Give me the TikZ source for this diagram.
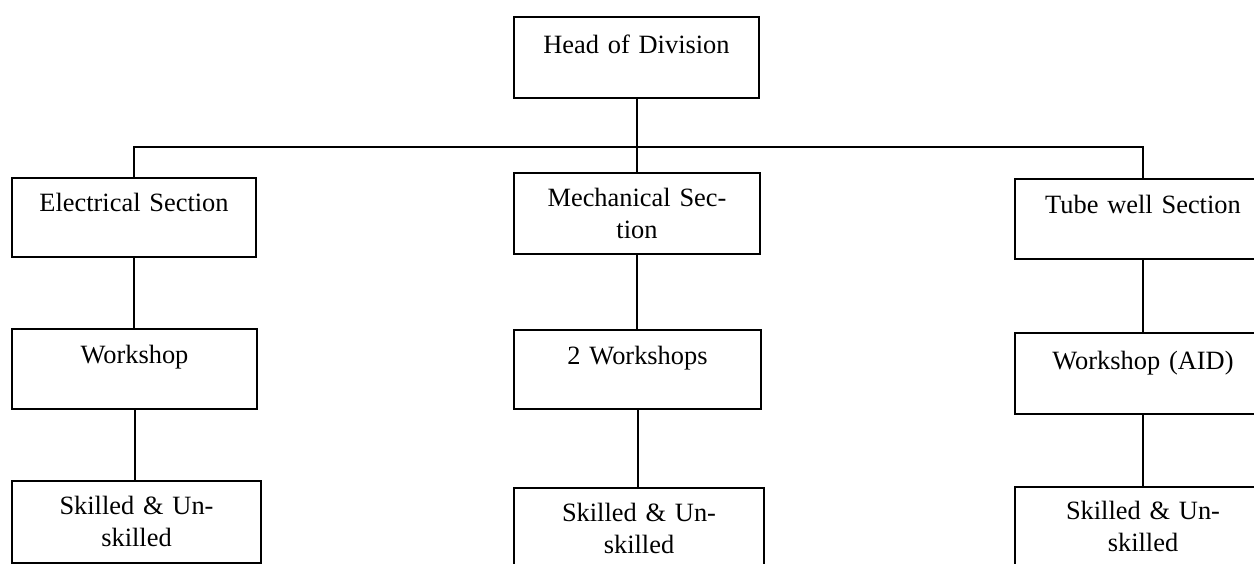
\documentclass[tikz,border=0pt]{standalone}
\usepackage{fontspec}
\setmainfont{Liberation Serif}
\begin{document}
\begin{tikzpicture}[x=0.5pt,y=-0.5pt,
  line width=1pt,
  % box: left/top corner given by "at"; args = width, text height, text depth (px)
  orgbox/.style n args={3}{draw, rectangle, inner sep=0pt, anchor=north west,
    align=center, text width=#1*0.5pt, text height=#2*0.5pt, text depth=#3*0.5pt,
    font=\fontsize{13.2pt}{16pt}\selectfont},
  link/.style={draw, line width=1pt}]
\useasboundingbox (0,0) rectangle (1254,563);
\clip (0,0) rectangle (1254,563);

% top
\node[orgbox={245}{36}{45}] (head) at (513,16) {Head of Division};

% sections
\node[orgbox={244}{33}{46}] (elec) at (11,177) {Electrical Section};
\node[orgbox={246}{33}{48}] (mech) at (513,172) {Mechanical Sec-\\tion};
\node[orgbox={256}{34}{46}] (tube) at (1014,178) {Tube well Section};

% workshops
\node[orgbox={245}{34}{46}] (ws1) at (11,328) {Workshop};
\node[orgbox={247}{34}{45}] (ws2) at (513,329) {2 Workshops};
\node[orgbox={256}{36}{45}] (ws3) at (1014,332) {Workshop (AID)};

% staff
\node[orgbox={249}{33}{49}] (sk1) at (11,480) {Skilled \& Un-\\skilled};
\node[orgbox={250}{33}{100}] (sk2) at (513,487) {Skilled \& Un-\\skilled};
\node[orgbox={256}{32}{100}] (sk3) at (1014,486) {Skilled \& Un-\\skilled};

% connectors
\coordinate (bus) at (head.south |- 0,147);
\draw[link] (head.south) -- (head.south |- mech.north);
\draw[link] (elec.north) |- (bus) -| (tube.north);
\draw[link] (elec.south) -- (elec.south |- ws1.north);
\draw[link] (ws1.south) -- (ws1.south |- sk1.north);
\draw[link] (mech.south) -- (mech.south |- ws2.north);
\draw[link] (ws2.south) -- (ws2.south |- sk2.north);
\draw[link] (tube.south) -- (ws3.north);
\draw[link] (ws3.south) -- (sk3.north);
\end{tikzpicture}
\end{document}
